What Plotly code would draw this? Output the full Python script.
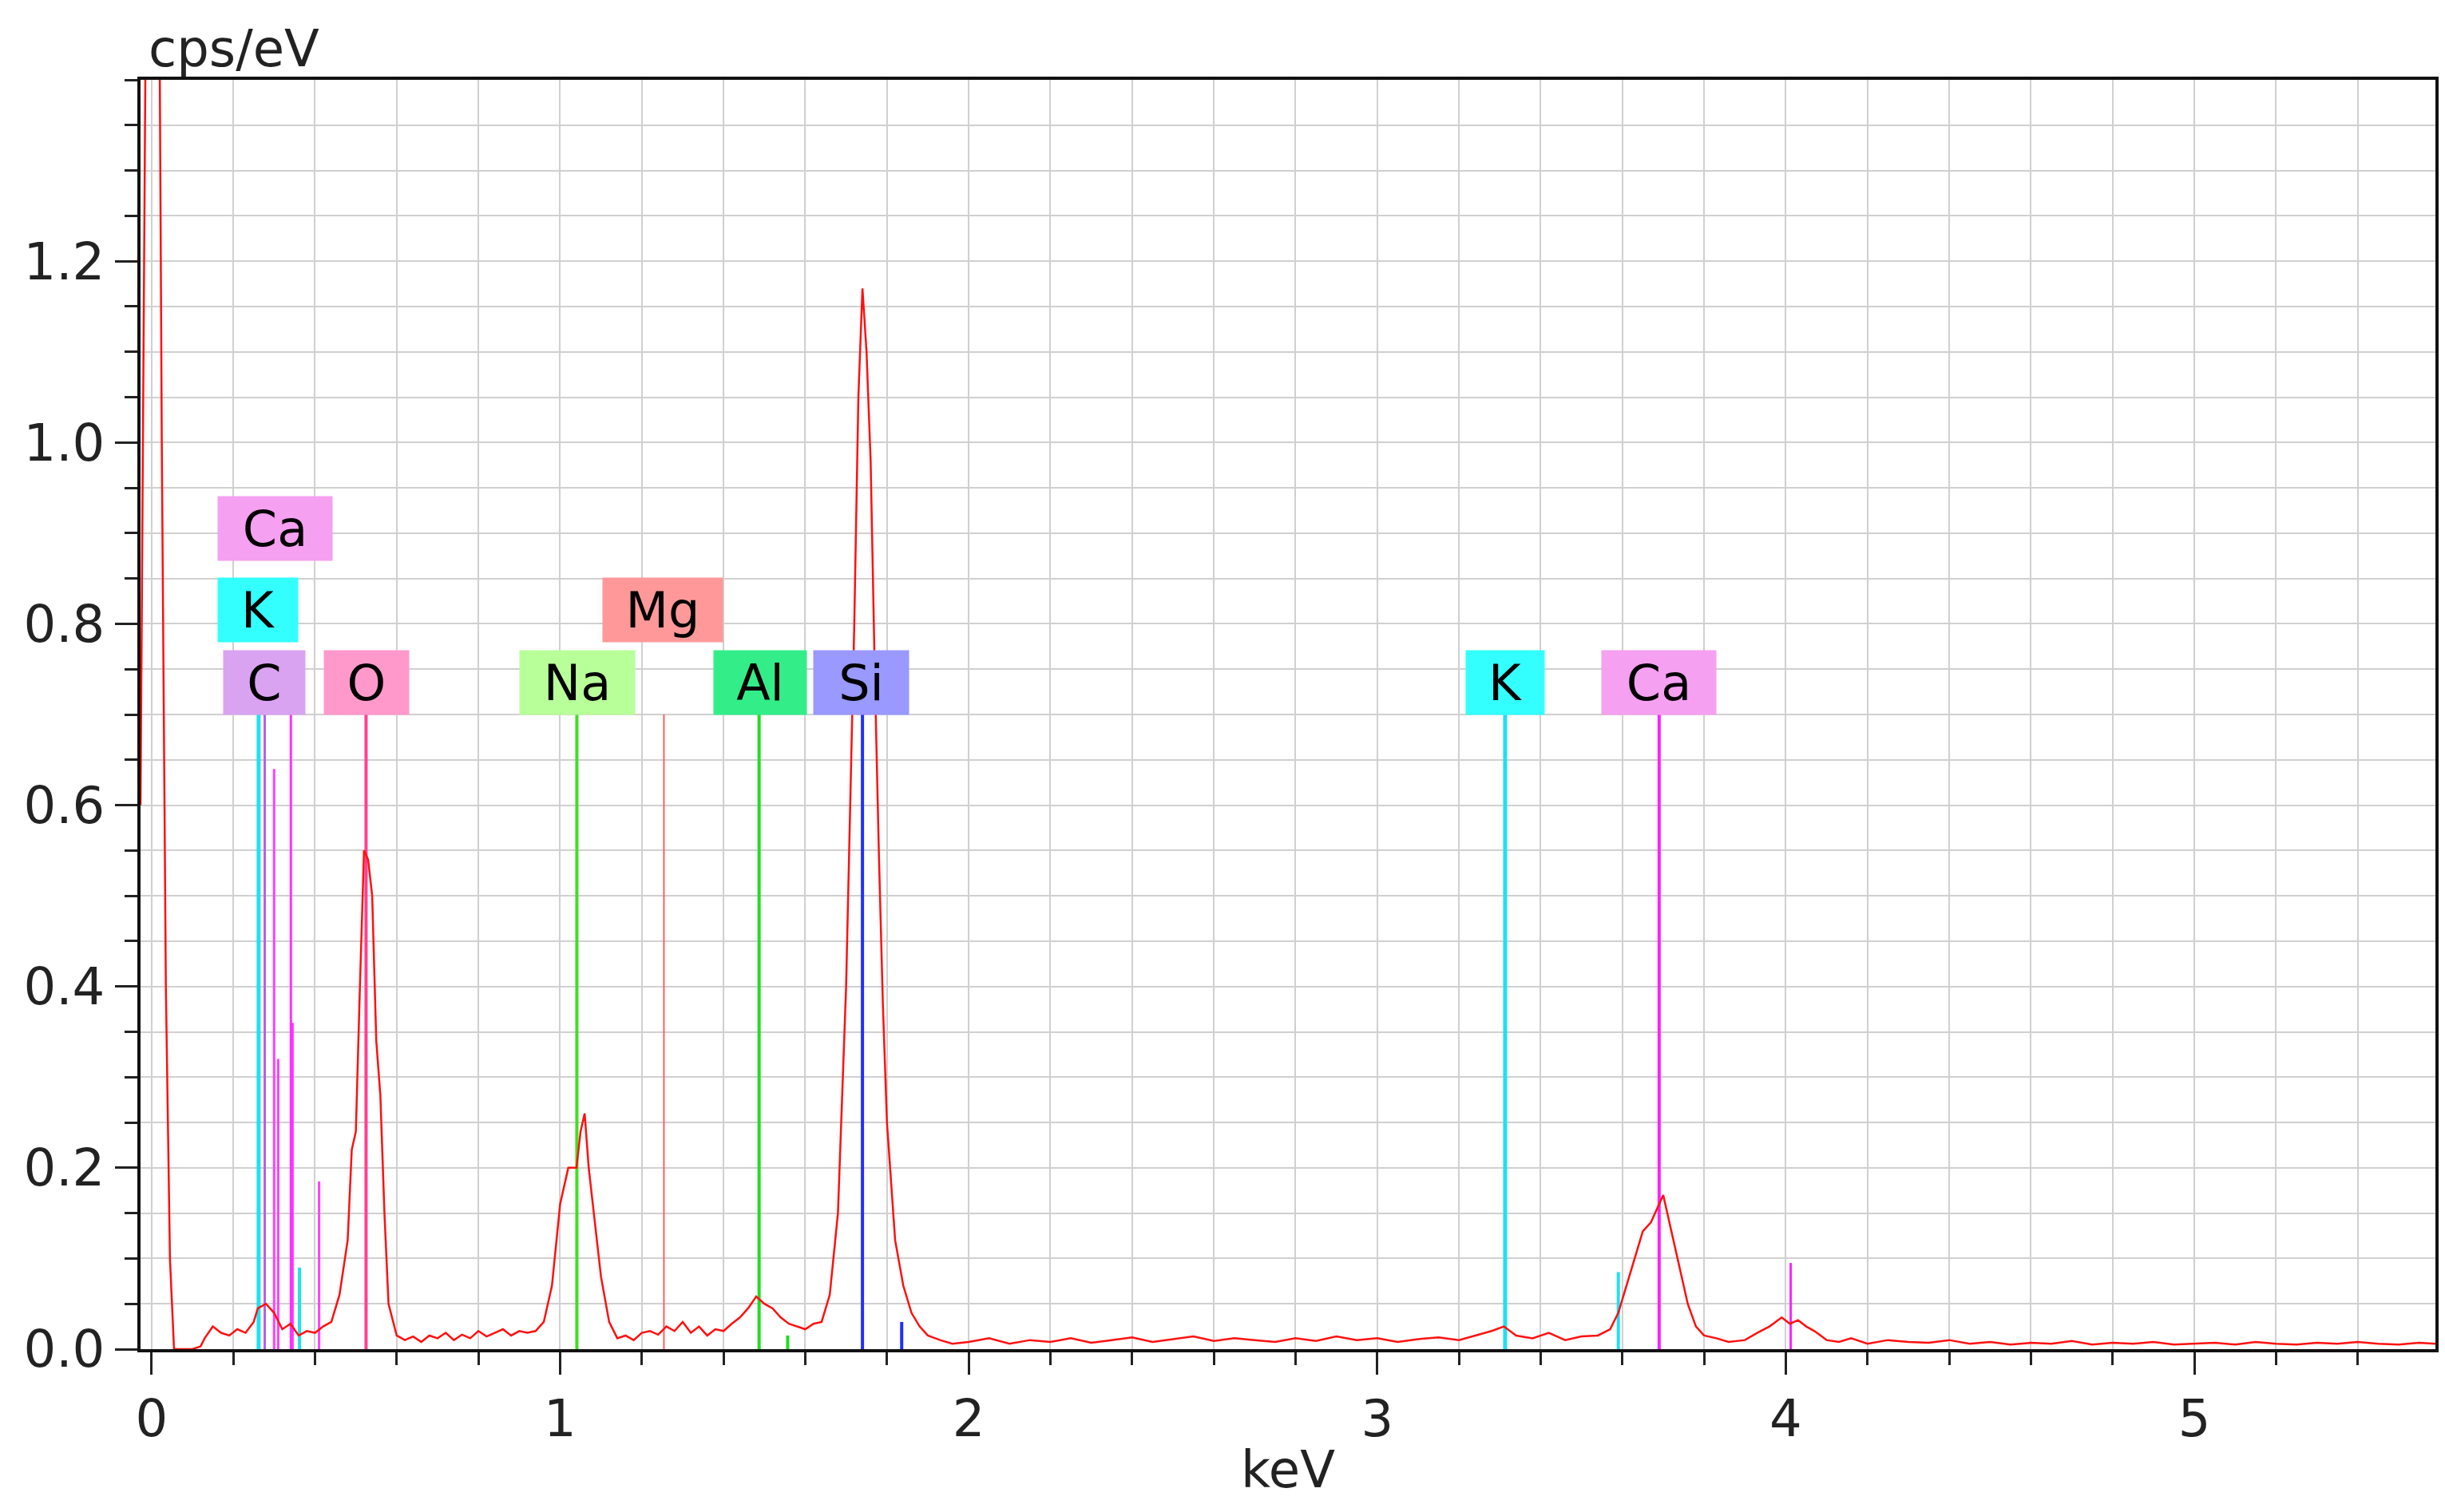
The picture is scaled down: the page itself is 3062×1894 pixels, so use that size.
import plotly.graph_objects as go

# EDS spectrum (keV, cps/eV)
energy = [-0.027, -0.015, 0.0, 0.02, 0.025, 0.035, 0.045, 0.055, 0.08, 0.10, 0.12, 0.13, 0.15, 0.17, 0.19, 0.21,
          0.23, 0.25, 0.26, 0.28, 0.30, 0.32, 0.34, 0.36, 0.38, 0.40, 0.42, 0.44, 0.46, 0.48, 0.49,
          0.50, 0.51, 0.52, 0.53, 0.54, 0.55, 0.56, 0.57, 0.58, 0.60, 0.62, 0.64, 0.66, 0.68, 0.70,
          0.72, 0.74, 0.76, 0.78, 0.80, 0.82, 0.84, 0.86, 0.88, 0.90, 0.92, 0.94, 0.96, 0.98, 1.00,
          1.02, 1.04, 1.05, 1.06, 1.07, 1.08, 1.10, 1.12, 1.14, 1.16, 1.18, 1.20, 1.22, 1.24, 1.26,
          1.28, 1.30, 1.32, 1.34, 1.36, 1.38, 1.40, 1.42, 1.44, 1.46, 1.48, 1.50, 1.52, 1.54, 1.56,
          1.58, 1.60, 1.62, 1.64, 1.66, 1.68, 1.70, 1.71, 1.72, 1.73, 1.74, 1.75, 1.76, 1.77, 1.78,
          1.79, 1.80, 1.82, 1.84, 1.86, 1.88, 1.90, 1.93, 1.96, 2.00, 2.05, 2.10, 2.15, 2.20, 2.25,
          2.30, 2.35, 2.40, 2.45,
          2.50, 2.55, 2.60, 2.65, 2.70, 2.75, 2.80, 2.85, 2.90, 2.95, 3.00, 3.05, 3.10, 3.15, 3.20,
          3.25, 3.28, 3.31, 3.34, 3.38, 3.42, 3.46, 3.50, 3.54, 3.57, 3.59, 3.61, 3.63, 3.65, 3.67,
          3.69, 3.70, 3.72, 3.74, 3.76, 3.78, 3.80, 3.83, 3.86, 3.90, 3.93, 3.96, 3.99, 4.01, 4.03,
          4.05, 4.07, 4.10, 4.13, 4.16, 4.20, 4.25, 4.30, 4.35, 4.40, 4.45, 4.50, 4.55, 4.60, 4.65,
          4.70, 4.75, 4.80, 4.85, 4.90, 4.95, 5.00, 5.05, 5.10, 5.15, 5.20, 5.25, 5.30, 5.35, 5.40,
          5.45, 5.50, 5.55, 5.59]
counts = [0.6, 1.42, 1.42, 1.42, 1.0, 0.4, 0.1, 0.0, 0.0, 0.0, 0.003, 0.012, 0.025, 0.018, 0.015, 0.022,
          0.018, 0.03, 0.045, 0.05, 0.04, 0.022, 0.028, 0.015, 0.02, 0.018, 0.025, 0.03, 0.06, 0.12, 0.22,
          0.24, 0.40, 0.55, 0.54, 0.50, 0.34, 0.28, 0.15, 0.05, 0.015, 0.01, 0.014, 0.008, 0.015, 0.012,
          0.018, 0.01, 0.016, 0.012, 0.02, 0.014, 0.018, 0.022, 0.015, 0.02, 0.018, 0.02, 0.03, 0.07, 0.16,
          0.20, 0.20, 0.24, 0.26, 0.20, 0.16, 0.08, 0.03, 0.012, 0.015, 0.01, 0.018, 0.02, 0.016, 0.025,
          0.02, 0.03, 0.018, 0.025, 0.015, 0.022, 0.02, 0.028, 0.035, 0.045, 0.058, 0.05, 0.045, 0.035, 0.028,
          0.025, 0.022, 0.028, 0.03, 0.06, 0.15, 0.40, 0.60, 0.80, 1.05, 1.17, 1.10, 0.98, 0.75, 0.55,
          0.38, 0.25, 0.12, 0.07, 0.04, 0.025, 0.015, 0.01, 0.006, 0.008, 0.012, 0.006, 0.01, 0.008, 0.012,
          0.007, 0.01, 0.013, 0.008,
          0.011, 0.014, 0.009, 0.012, 0.01, 0.008, 0.012, 0.009, 0.014, 0.01, 0.012, 0.008, 0.011, 0.013, 0.01,
          0.016, 0.02, 0.025, 0.015, 0.012, 0.018, 0.01, 0.014, 0.015, 0.022, 0.04, 0.07, 0.10, 0.13, 0.14,
          0.16, 0.17, 0.13, 0.09, 0.05, 0.025, 0.015, 0.012, 0.008, 0.01, 0.018, 0.025, 0.035, 0.028, 0.032,
          0.025, 0.02, 0.01, 0.008, 0.012, 0.006, 0.01, 0.008, 0.007, 0.01, 0.006, 0.008, 0.005, 0.007, 0.006,
          0.009, 0.005, 0.007, 0.006, 0.008, 0.005, 0.006, 0.007, 0.005, 0.008, 0.006, 0.005, 0.007, 0.006, 0.008,
          0.006, 0.005, 0.007, 0.006]

# element marker lines: position, height, colour
line_pos = [0.262, 0.277, 0.300, 0.310, 0.341, 0.345, 0.362, 0.410, 0.525, 1.041, 1.254,
            1.487, 1.557, 1.740, 1.836, 3.313, 3.590, 3.690, 4.012]
line_h = [0.70, 0.70, 0.64, 0.32, 0.70, 0.36, 0.09, 0.185, 0.70, 0.70, 0.70,
          0.70, 0.015, 0.70, 0.03, 0.70, 0.085, 0.70, 0.095]
line_col = ["#22e0f0", "#b060f0", "#ff40ff", "#ff40ff", "#ff30ff", "#ff30ff", "#22e0f0", "#ff40ff",
            "#ff4090", "#40e020", "#ff6060", "#20dd20", "#20dd20", "#2030ff", "#2030ff",
            "#22e0f0", "#22e0f0", "#ff20ff", "#ff20ff"]
line_w = [5, 3, 3, 3, 3, 3, 4, 3, 4, 4, 2, 4, 4, 4, 4, 5, 4, 4, 3]

# element labels
lab_text = ["C", "O", "Na", "Al", "Si", "K", "Ca", "K", "Ca", "Mg"]
lab_x = [0.275, 0.527, 1.042, 1.489, 1.737, 3.313, 3.690, 0.260, 0.302, 1.252]
lab_y = [0.735, 0.735, 0.735, 0.735, 0.735, 0.735, 0.735, 0.815, 0.905, 0.815]
lab_w = [98, 102, 140, 112, 115, 94, 139, 96, 139, 146]
lab_bg = ["#d9a3f2", "#ff99cc", "#b8ff99", "#33ee88", "#9999ff", "#33ffff", "#f5a0f0",
          "#33ffff", "#f5a0f0", "#ff9999"]

fig = go.Figure()

for x, h, c, w in zip(line_pos, line_h, line_col, line_w):
    fig.add_trace(go.Scatter(x=[x, x], y=[0, h], mode="lines",
                             line=dict(color=c, width=w), showlegend=False))

fig.add_trace(go.Scatter(x=energy, y=counts, mode="lines",
                         line=dict(color="#ff1010", width=2.5), showlegend=False))

for t, x, y, w, bg in zip(lab_text, lab_x, lab_y, lab_w, lab_bg):
    fig.add_annotation(x=x, y=y, text=t, showarrow=False, bgcolor=bg, width=w, height=76,
                       font=dict(size=62, color="black"), borderpad=2)

axis_font = dict(family="DejaVu Sans", size=64, color="#222")
fig.update_xaxes(range=[-0.027, 5.59], tickvals=[0, 1, 2, 3, 4, 5], ticks="outside",
                 ticklen=28, tickwidth=3, tickcolor="#222", tickfont=axis_font,
                 showgrid=True, gridcolor="#d0d0d0", gridwidth=2,
                 minor=dict(dtick=0.2, tick0=0, ticks="outside", ticklen=16, tickwidth=3,
                            tickcolor="#222", showgrid=True, gridcolor="#d0d0d0", gridwidth=2),
                 showline=True, linecolor="#111", linewidth=4, mirror=True, zeroline=False,
                 title=dict(text="keV", font=axis_font, standoff=6))
fig.update_yaxes(range=[0, 1.40], tickvals=[0, 0.2, 0.4, 0.6, 0.8, 1.0, 1.2], tickformat=".1f",
                 ticks="outside", ticklen=28, tickwidth=3, tickcolor="#222", tickfont=axis_font,
                 showgrid=True, gridcolor="#d0d0d0", gridwidth=2,
                 minor=dict(dtick=0.05, tick0=0, ticks="outside", ticklen=16, tickwidth=3,
                            tickcolor="#222", showgrid=True, gridcolor="#d0d0d0", gridwidth=2),
                 showline=True, linecolor="#111", linewidth=4, mirror=True, zeroline=False)

fig.add_annotation(x=0.0, y=1.0, xref="paper", yref="paper", xanchor="left", yanchor="bottom",
                   text="cps/eV", showarrow=False, font=axis_font, xshift=8)

fig.update_layout(width=3062, height=1894, plot_bgcolor="white", paper_bgcolor="white",
                  margin=dict(l=168, r=20, t=92, b=212), font=dict(family="DejaVu Sans"))

fig.write_html("out.html")
